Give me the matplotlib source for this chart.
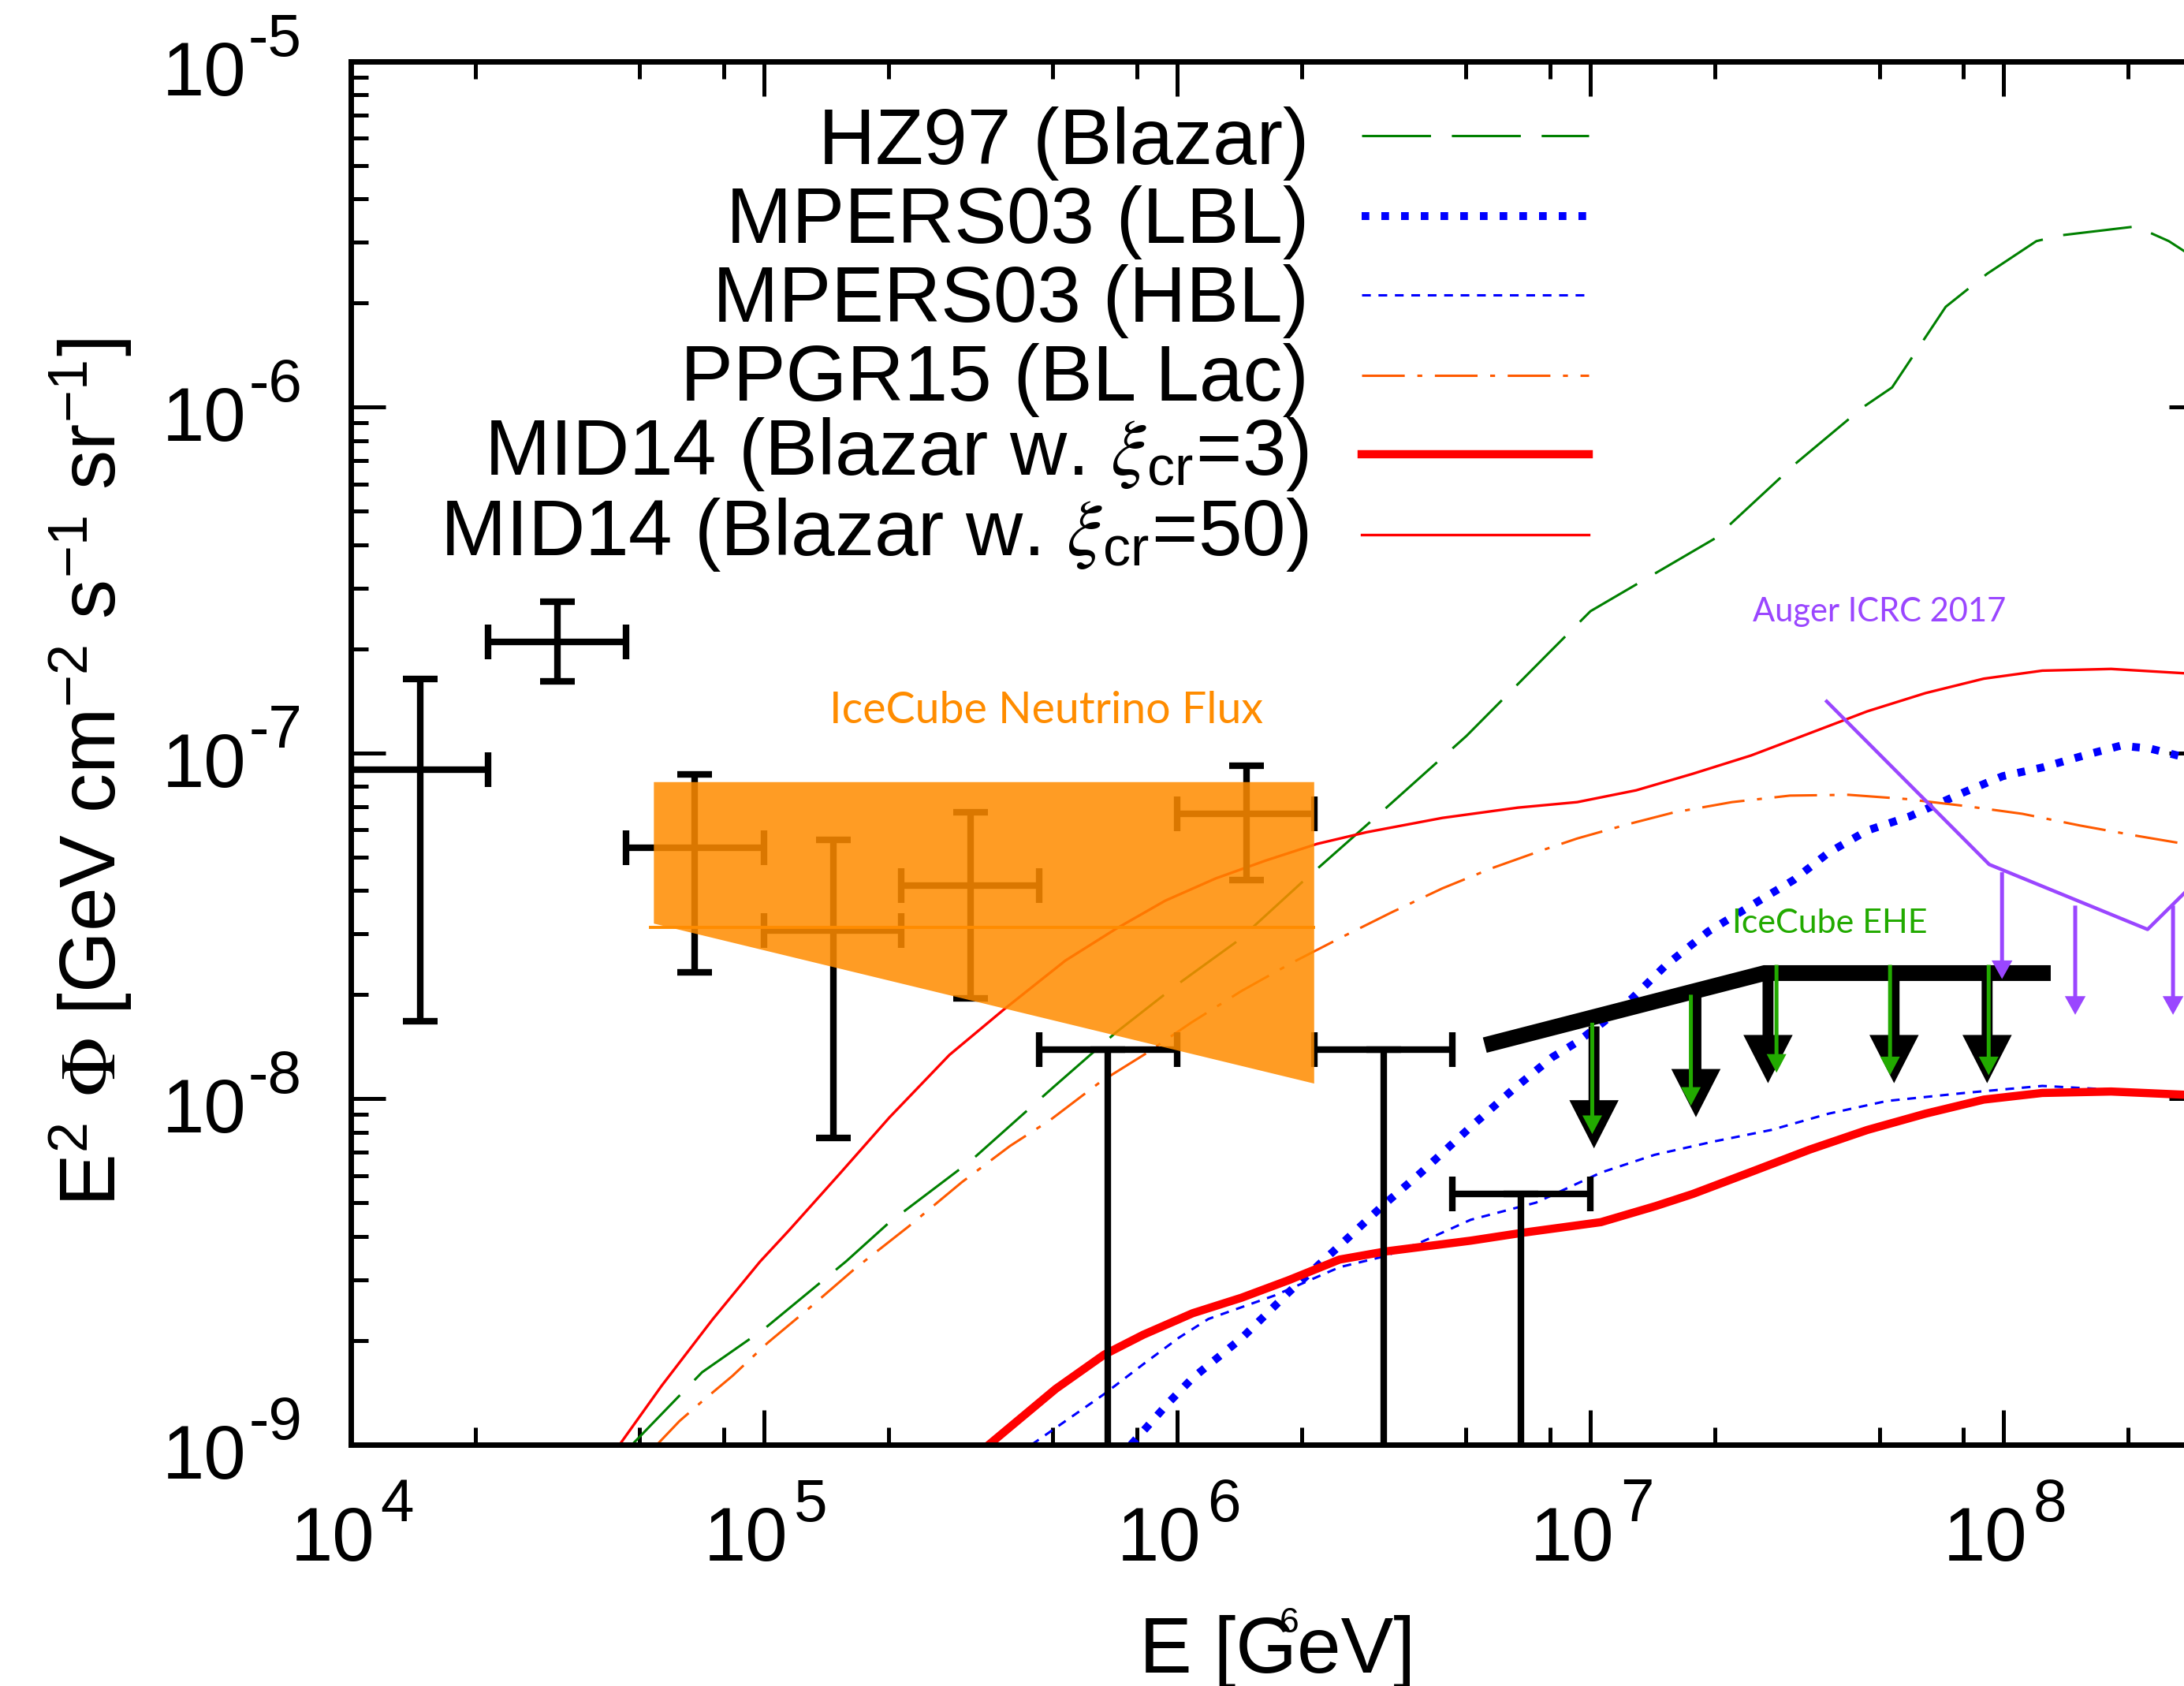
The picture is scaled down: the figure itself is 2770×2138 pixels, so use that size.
import matplotlib
matplotlib.use('Agg')
import matplotlib.pyplot as plt
from matplotlib import font_manager
from matplotlib.ticker import LogLocator, NullFormatter

plt.rcParams['font.family'] = ['Liberation Sans', 'DejaVu Sans']
plt.rcParams['mathtext.fontset'] = 'stix'
plt.rcParams['axes.unicode_minus'] = False
plt.rcParams['lines.scale_dashes'] = False

installed = {f.name for f in font_manager.fontManager.ttflist}
tick_font = 'Liberation Sans Narrow' if 'Liberation Sans Narrow' in installed else 'Liberation Sans'
note_font = 'Lato' if 'Lato' in installed else 'DejaVu Sans'

# ---------------- data (E in GeV, E^2 Phi in GeV cm^-2 s^-1 sr^-1) ----------------
# HZ97 (Blazar)
hz97_E = [4.79e4, 7.08e4, 1.00e5, 1.58e5, 2.00e5, 3.16e5, 5.01e5, 7.08e5, 1.00e6, 1.41e6,
          2.00e6, 3.16e6, 5.01e6, 7.94e6, 1.00e7, 2.00e7, 3.16e7, 4.57e7, 5.37e7, 7.24e7,
          9.12e7, 1.20e8, 1.38e8, 2.09e8, 2.51e8, 3.00e8]
hz97_F = [1.00e-9, 1.62e-9, 2.16e-9, 3.39e-9, 4.37e-9, 6.61e-9, 1.08e-8, 1.55e-8, 2.14e-8, 2.88e-8,
          4.22e-8, 6.84e-8, 1.12e-7, 1.95e-7, 2.57e-7, 4.17e-7, 6.92e-7, 1.00e-6, 1.14e-6, 1.95e-6,
          2.43e-6, 3.02e-6, 3.14e-6, 3.33e-6, 3.02e-6, 2.63e-6]

# MPERS03 (LBL)
lbl_E = [7.73e5, 9.57e5, 1.09e6, 1.43e6, 1.88e6, 2.47e6, 3.13e6, 3.89e6, 5.11e6, 6.47e6,
         8.09e6, 9.29e6, 1.07e7, 1.26e7, 1.52e7, 1.93e7, 2.56e7, 3.10e7, 3.77e7, 4.68e7,
         5.93e7, 8.04e7, 9.95e7, 1.24e8, 1.60e8, 1.92e8, 2.26e8, 2.57e8, 3.16e8]
lbl_F = [1.00e-9, 1.33e-9, 1.56e-9, 2.03e-9, 2.79e-9, 3.76e-9, 4.89e-9, 6.12e-9, 8.26e-9, 1.06e-8,
         1.32e-8, 1.46e-8, 1.66e-8, 1.95e-8, 2.43e-8, 3.05e-8, 3.74e-8, 4.29e-8, 5.15e-8, 5.97e-8,
         6.56e-8, 7.71e-8, 8.57e-8, 9.08e-8, 9.91e-8, 1.05e-7, 1.03e-7, 9.91e-8, 9.30e-8]

# MPERS03 (HBL)
hbl_E = [4.44e5, 6.65e5, 8.28e5, 1.01e6, 1.19e6, 1.72e6, 2.47e6, 3.19e6, 3.89e6, 5.13e6,
         7.38e6, 1.06e7, 1.43e7, 1.98e7, 2.74e7, 3.77e7, 5.22e7, 8.04e7, 1.24e8, 1.91e8, 3.16e8]
hbl_F = [1.00e-9, 1.40e-9, 1.71e-9, 2.04e-9, 2.31e-9, 2.70e-9, 3.26e-9, 3.51e-9, 3.85e-9, 4.47e-9,
         5.01e-9, 6.12e-9, 6.89e-9, 7.52e-9, 8.13e-9, 9.06e-9, 9.86e-9, 1.04e-8, 1.09e-8, 1.06e-8, 1.02e-8]

# PPGR15 (BL Lac)
ppgr_E = [5.55e4, 6.24e4, 7.16e4, 8.38e4, 1.02e5, 1.29e5, 1.66e5, 2.24e5, 3.01e5, 3.94e5,
          4.93e5, 6.52e5, 8.38e5, 1.08e6, 1.43e6, 1.89e6, 2.51e6, 3.30e6, 4.38e6, 5.79e6,
          7.67e6, 9.29e6, 1.23e7, 1.59e7, 2.20e7, 3.04e7, 4.21e7, 5.81e7, 8.04e7, 1.11e8,
          1.53e8, 2.12e8, 2.74e8, 3.16e8]
ppgr_F = [1.01e-9, 1.17e-9, 1.35e-9, 1.58e-9, 1.97e-9, 2.49e-9, 3.23e-9, 4.28e-9, 5.74e-9, 7.31e-9,
          8.69e-9, 1.12e-8, 1.35e-8, 1.66e-8, 2.05e-8, 2.47e-8, 2.94e-8, 3.46e-8, 4.06e-8, 4.65e-8,
          5.24e-8, 5.66e-8, 6.22e-8, 6.73e-8, 7.21e-8, 7.53e-8, 7.57e-8, 7.36e-8, 7.03e-8, 6.67e-8,
          6.17e-8, 5.75e-8, 5.46e-8, 5.30e-8]

# MID14 (Blazar, xi_cr = 3)
mid3_E = [3.50e5, 5.08e5, 6.65e5, 8.28e5, 1.09e6, 1.43e6, 1.86e6, 2.47e6, 3.19e6, 5.13e6,
          6.85e6, 1.06e7, 1.44e7, 1.77e7, 2.45e7, 3.39e7, 4.68e7, 6.47e7, 8.95e7, 1.24e8,
          1.82e8, 3.16e8]
mid3_F = [1.00e-9, 1.45e-9, 1.82e-9, 2.08e-9, 2.40e-9, 2.66e-9, 2.99e-9, 3.43e-9, 3.62e-9, 3.89e-9,
          4.10e-9, 4.40e-9, 4.90e-9, 5.31e-9, 6.15e-9, 7.13e-9, 8.13e-9, 9.06e-9, 9.95e-9, 1.04e-8,
          1.05e-8, 1.02e-8]

# MID14 (Blazar, xi_cr = 50)
mid50_E = [4.47e4, 5.65e4, 7.50e4, 9.77e4, 1.15e5, 1.52e5, 2.01e5, 2.81e5, 3.82e5, 5.36e5,
           7.10e5, 9.35e5, 1.24e6, 1.64e6, 2.18e6, 2.87e6, 4.38e6, 6.67e6, 9.29e6, 1.29e7,
           1.77e7, 2.45e7, 3.39e7, 4.68e7, 6.47e7, 8.95e7, 1.24e8, 1.82e8, 2.74e8, 3.16e8]
mid50_F = [1.00e-9, 1.48e-9, 2.30e-9, 3.38e-9, 4.17e-9, 6.05e-9, 8.83e-9, 1.34e-8, 1.82e-8, 2.51e-8,
           3.10e-8, 3.74e-8, 4.34e-8, 4.89e-8, 5.46e-8, 5.90e-8, 6.49e-8, 6.95e-8, 7.21e-8, 7.80e-8,
           8.71e-8, 9.84e-8, 1.14e-7, 1.32e-7, 1.49e-7, 1.64e-7, 1.73e-7, 1.75e-7, 1.70e-7, 1.67e-7]

# IceCube HESE-like data points
hese_E = [1.47e4, 3.16e4, 6.80e4, 1.47e5, 3.16e5, 6.80e5, 1.47e6, 3.16e6, 6.80e6]
hese_Elo = [1.00e4, 2.15e4, 4.64e4, 1.00e5, 2.15e5, 4.64e5, 1.00e6, 2.15e6, 4.64e6]
hese_Ehi = [2.15e4, 4.64e4, 1.00e5, 2.15e5, 4.64e5, 1.00e6, 2.15e6, 4.64e6, 1.00e7]
hese_F = [8.95e-8, 2.09e-7, 5.31e-8, 3.06e-8, 4.13e-8, 1.39e-8, 6.67e-8, 1.39e-8, 5.30e-9]
hese_lo = [1.68e-8, 1.61e-7, 2.32e-8, 7.70e-9, 1.95e-8, 1e-12, 4.29e-8, 1e-12, 1e-12]
hese_hi = [1.64e-7, 2.74e-7, 8.67e-8, 5.60e-8, 6.75e-8, 1.39e-8, 9.18e-8, 1.39e-8, 5.30e-9]

# IceCube neutrino flux band and best fit
band_E = [5.40e4, 2.14e6]
band_lo = [3.22e-8, 1.11e-8]
band_hi = [8.26e-8, 8.26e-8]
bestfit_E = [5.30e4, 2.14e6]
bestfit_F = [3.13e-8, 3.13e-8]

# IceCube EHE limit
ehe_E = [5.55e6, 2.64e7, 1.30e8]
ehe_F = [1.43e-8, 2.31e-8, 2.31e-8]
ehe_arrow_E = [1.02e7, 1.80e7, 2.69e7, 5.43e7, 9.12e7]
ehe_arrow_top = [1.62e-8, 2.00e-8, 2.31e-8, 2.31e-8, 2.31e-8]
ehe_arrow_tip = [7.19e-9, 8.85e-9, 1.11e-8, 1.11e-8, 1.11e-8]
ehe_green_E = [1.01e7, 1.75e7, 2.82e7, 5.31e7, 9.20e7]
ehe_green_top = [1.66e-8, 2.00e-8, 2.44e-8, 2.44e-8, 2.44e-8]
ehe_green_tip = [7.91e-9, 9.55e-9, 1.19e-8, 1.17e-8, 1.17e-8]

# Auger ICRC 2017 limit
auger_E = [3.73e7, 9.23e7, 2.23e8, 2.74e8, 3.02e8]
auger_F = [1.41e-7, 4.76e-8, 3.09e-8, 3.94e-8, 4.47e-8]
auger_arrow_E = [9.91e7, 1.49e8, 2.57e8]
auger_arrow_top = [4.52e-8, 3.62e-8, 3.62e-8]
auger_arrow_tip = [2.22e-8, 1.75e-8, 1.75e-8]

x_ticks = [1e4, 1e5, 1e6, 1e7, 1e8]
x_exps = ['4', '5', '6', '7', '8']
y_ticks = [1e-9, 1e-8, 1e-7, 1e-6, 1e-5]
y_exps = ['-9', '-8', '-7', '-6', '-5']

legend_labels = ['HZ97 (Blazar)', 'MPERS03 (LBL)', 'MPERS03 (HBL)', 'PPGR15 (BL Lac)',
                 r'MID14 (Blazar w. $\xi_{\mathregular{cr}}$=3)',
                 r'MID14 (Blazar w. $\xi_{\mathregular{cr}}$=50)']

# ---------------- styles ----------------
GREEN = '#008000'
BLUE = '#0000FF'
ORANGE_RED = '#FF5A00'
RED = '#FF0000'
ICE_ORANGE = '#FF8C00'
EHE_GREEN = '#22AA00'
PURPLE = '#9A46FF'

styles = [
    dict(color=GREEN, lw=2.2, dashes=(63, 19)),
    dict(color=BLUE, lw=7.2, dashes=(7, 11), dash_capstyle='butt'),
    dict(color=BLUE, lw=2.2, dashes=(8, 7)),
    dict(color=ORANGE_RED, lw=2.2, dashes=(39, 11.5, 4.5, 11.5)),
    dict(color=RED, lw=7.5),
    dict(color=RED, lw=2.4),
]
curves = [(hz97_E, hz97_F), (lbl_E, lbl_F), (hbl_E, hbl_F), (ppgr_E, ppgr_F),
          (mid3_E, mid3_F), (mid50_E, mid50_F)]

fig = plt.figure(figsize=(27.7, 21.38), dpi=100)
ax = fig.add_axes([0.16065, 0.14312, 0.8484, 0.82054])
ax.set_xscale('log')
ax.set_yscale('log')
ax.set_xlim(1e4, 3.05e8)
ax.set_ylim(1e-9, 1e-5)

for (E, F), st in zip(curves, styles):
    ax.plot(E, F, zorder=2, **st)

xerr = [[e - lo for e, lo in zip(hese_E, hese_Elo)], [hi - e for e, hi in zip(hese_E, hese_Ehi)]]
yerr = [[f - lo for f, lo in zip(hese_F, hese_lo)], [hi - f for f, hi in zip(hese_F, hese_hi)]]
ax.errorbar(hese_E, hese_F, xerr=xerr, yerr=yerr, fmt='none', ecolor='k',
            elinewidth=6, capsize=16, capthick=6, zorder=2.5)

ax.fill_between(band_E, band_lo, band_hi, color=ICE_ORANGE, alpha=0.86, lw=0, zorder=3)
ax.plot(bestfit_E, bestfit_F, color=ICE_ORANGE, lw=2.8, zorder=3.2)
ax.text(1.44e5, 1.22e-7, 'IceCube Neutrino Flux', color=ICE_ORANGE, fontsize=40,
        family=note_font, va='baseline', ha='left')

# IceCube EHE
ax.plot(ehe_E, ehe_F, color='k', lw=14.4, solid_capstyle='butt', solid_joinstyle='miter', zorder=4)
for e, top, tip in zip(ehe_arrow_E, ehe_arrow_top, ehe_arrow_tip):
    ax.annotate('', xy=(e, tip), xytext=(e, top),
                arrowprops=dict(arrowstyle='simple,head_length=44,head_width=45,tail_width=10',
                                mutation_scale=1, fc='k', ec='none', lw=0,
                                shrinkA=0, shrinkB=0), zorder=4)
for e, top, tip in zip(ehe_green_E, ehe_green_top, ehe_green_tip):
    ax.annotate('', xy=(e, tip), xytext=(e, top),
                arrowprops=dict(arrowstyle='simple,head_length=17,head_width=18,tail_width=3.6',
                                mutation_scale=1, fc=EHE_GREEN, ec='none', lw=0,
                                shrinkA=0, shrinkB=0), zorder=4.5)
ax.text(2.2e7, 3.02e-8, 'IceCube EHE', color=EHE_GREEN, fontsize=31,
        family=note_font, va='baseline', ha='left', zorder=5)

# Auger
ax.plot(auger_E, auger_F, color=PURPLE, lw=3.2, zorder=4)
for e, top, tip in zip(auger_arrow_E, auger_arrow_top, auger_arrow_tip):
    ax.annotate('', xy=(e, tip), xytext=(e, top),
                arrowprops=dict(arrowstyle='simple,head_length=17,head_width=19,tail_width=3.6',
                                mutation_scale=1, fc=PURPLE, ec='none', lw=0,
                                shrinkA=0, shrinkB=0), zorder=4)
ax.text(2.47e7, 2.40e-7, 'Auger ICRC 2017', color=PURPLE, fontsize=30,
        family=note_font, va='baseline', ha='left')

# legend (drawn by hand: right-aligned labels, sample line on the right)
leg_text_y = [0.9257, 0.8687, 0.8117, 0.7547, 0.7011, 0.6430]
leg_line_y = [0.946, 0.888, 0.831, 0.773, 0.716, 0.658]
for lab, st, ty, ly in zip(legend_labels, styles, leg_text_y, leg_line_y):
    ax.text(0.517, ty, lab, transform=ax.transAxes, ha='right', va='baseline', fontsize=72)
    ax.plot([0.5455, 0.668], [ly, ly], transform=ax.transAxes, clip_on=False, **st)

# axes styling
for sp in ax.spines.values():
    sp.set_linewidth(5)
ax.xaxis.set_major_locator(LogLocator(base=10, numticks=20))
ax.xaxis.set_minor_locator(LogLocator(base=10, subs=(2, 5, 8), numticks=20))
ax.yaxis.set_major_locator(LogLocator(base=10, numticks=20))
ax.yaxis.set_minor_locator(LogLocator(base=10, subs=range(2, 10), numticks=20))
ax.xaxis.set_major_formatter(NullFormatter())
ax.xaxis.set_minor_formatter(NullFormatter())
ax.yaxis.set_major_formatter(NullFormatter())
ax.yaxis.set_minor_formatter(NullFormatter())
ax.tick_params(which='both', direction='in', top=True, right=True, width=3.6)
ax.tick_params(which='major', length=32)
ax.tick_params(which='minor', length=16)

# tick labels as "10" + superscript
for t, ex in zip(x_ticks, x_exps):
    ax.annotate('10', xy=(t, 0), xycoords=('data', 'axes fraction'), xytext=(22, -105.8),
                textcoords='offset points', ha='right', va='baseline', fontsize=69,
                family=tick_font, annotation_clip=False)
    ax.annotate(ex, xy=(t, 0), xycoords=('data', 'axes fraction'), xytext=(27, -69.8),
                textcoords='offset points', ha='left', va='baseline', fontsize=55,
                family=tick_font, annotation_clip=False)
for t, ex in zip(y_ticks, y_exps):
    ax.annotate('10', xy=(0, t), xycoords=('axes fraction', 'data'), xytext=(-95.8, -31),
                textcoords='offset points', ha='right', va='baseline', fontsize=69,
                family=tick_font, annotation_clip=False)
    ax.annotate(ex, xy=(0, t), xycoords=('axes fraction', 'data'), xytext=(-44.6, 5),
                textcoords='offset points', ha='right', va='baseline', fontsize=55,
                family=tick_font, annotation_clip=False)

ax.set_xlabel('E [GeV]', fontsize=72)
ax.xaxis.set_label_coords(0.5, -0.1647)
ax.xaxis.label.set_va('baseline')
ax.set_ylabel(r'E$^{\mathregular{2}}$ $\Phi$ [GeV cm$^{\mathregular{-2}}$ s$^{\mathregular{-1}}$ sr$^{\mathregular{-1}}$]',
              fontsize=72)
ax.yaxis.set_label_coords(-0.1264, 0.4862)
ax.yaxis.label.set_ha('center')
ax.yaxis.label.set_va('baseline')

fig.text(0.5859, 0.0318, '6', fontsize=32, ha='left', va='baseline')

fig.savefig('out.png', dpi=100)
